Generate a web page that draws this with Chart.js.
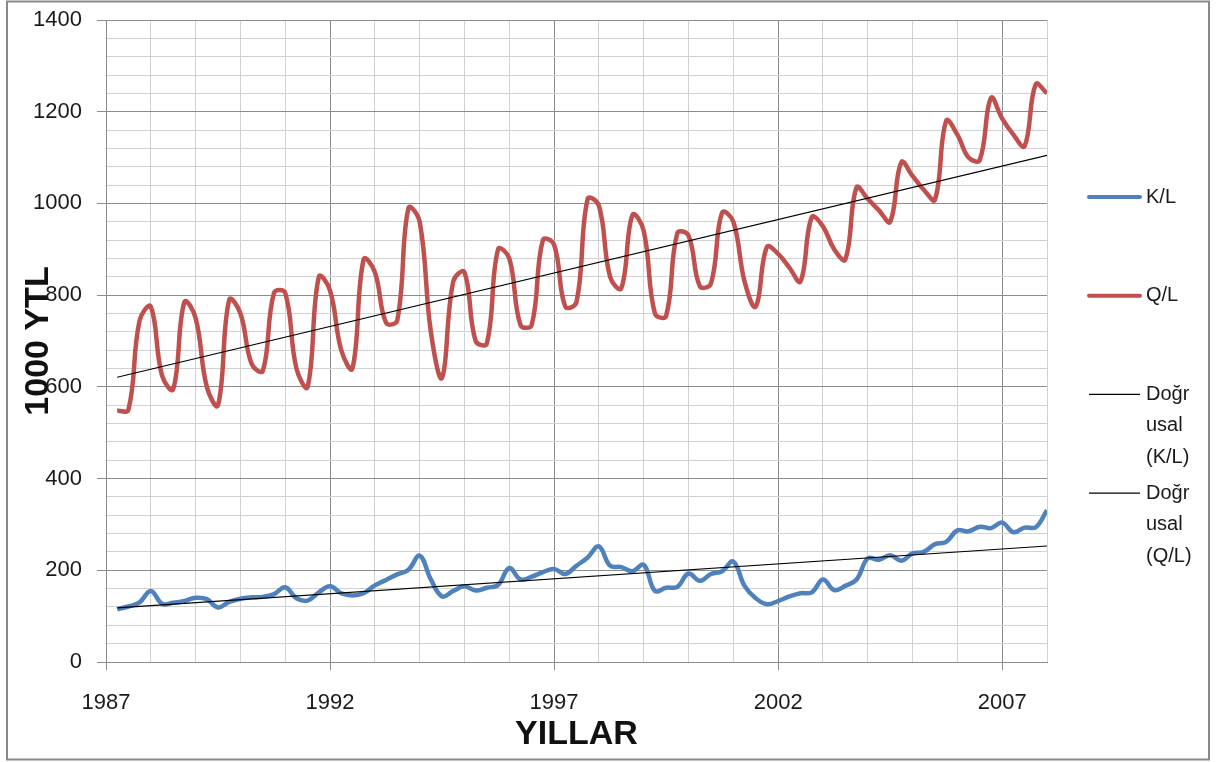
<!DOCTYPE html>
<html><head><meta charset="utf-8">
<script src="https://cdn.jsdelivr.net/npm/chart.js@4.4.1/dist/chart.umd.min.js"></script>
<style>html,body{margin:0;padding:0;background:#fff;overflow:hidden}#wrap{width:1218px;height:762px;position:relative}</style>
</head><body><div id="wrap"><canvas id="c" width="1218" height="762"></canvas></div>
<script>
// ---- categories: quarterly periods 1987Q1 .. 2007Q4 ----
const firstYear = 1987, lastYear = 2007;
const quarters = [];
for (let y = firstYear; y <= lastYear; y++) for (let q = 1; q <= 4; q++) quarters.push(y + 'Q' + q);

// ---- series values ----
const klValues = [
  115,121,130,155, 127,129,133,140, 137,119,131,138, 141,142,148,163,
  139,134,152,165, 150,145,150,167, 179,191,201,232, 180,143,155,165,
  156,162,168,205, 180,186,196,203, 192,210,228,252, 210,207,198,212,
  155,162,164,193, 177,192,198,219, 166,139,126,133, 143,150,152,180,
  157,166,180,226, 223,233,221,237, 240,257,262,287, 285,295,292,304,
  283,293,294,331
];
const qlValues = [
  548,550,745,775, 625,595,785,750, 600,560,790,760, 650,635,805,805,
  640,600,840,810, 680,640,878,850, 740,745,990,960, 720,620,830,850,
  700,695,900,880, 735,735,920,910, 775,785,1010,995, 840,815,975,940,
  760,755,935,930, 820,825,980,960, 830,775,905,890, 860,830,970,950,
  900,878,1035,1010, 985,960,1090,1060, 1030,1008,1180,1150, 1100,1095,1230,1185,
  1150,1125,1260,1240
];
// linear trend lines: values at first and last quarter
const trendKL = [118, 253];
const trendQL = [621, 1105];

// ---- labels ----
const seriesNames = ['K/L', 'Q/L', 'Doğrusal (K/L)', 'Doğrusal (Q/L)'];
const legendLines = [['K/L'], ['Q/L'], ['Doğr', 'usal', '(K/L)'], ['Doğr', 'usal', '(Q/L)']];
const xTickLabels = ['1987', '1992', '1997', '2002', '2007'];
const yTickLabels = [0, 200, 400, 600, 800, 1000, 1200, 1400];
const xTitle = 'YILLAR';
const yTitle = '1000 YTL';

// ---- build ----
const qToX = (s) => parseInt(s.slice(0, 4), 10) + parseInt(s.slice(-1), 10) / 4;
const xs = quarters.map(qToX);
const toPts = (vals) => vals.map((v, i) => ({ x: xs[i], y: v }));
const endPts = (pair) => [{ x: xs[0], y: pair[0] }, { x: xs[xs.length - 1], y: pair[1] }];

const FONT = "'Liberation Sans', Arial, sans-serif";
const BLUE = '#4F81BD', RED = '#C0504D';
const MAJOR = '#8c8c8c', MINOR = '#d2d2d2';

const frameLegend = {
  id: 'frameLegend',
  beforeDraw(chart) {
    const c = chart.ctx;
    c.save();
    c.fillStyle = '#fff';
    c.fillRect(0, 0, chart.width, chart.height);
    c.restore();
  },
  afterDraw(chart) {
    const c = chart.ctx;
    c.save();
    c.strokeStyle = '#8a8a8a';
    c.lineWidth = 2;
    c.strokeRect(7, 1.5, 1202, 758);
    // legend
    c.font = '20px ' + FONT;
    c.fillStyle = '#1a1a1a';
    c.textBaseline = 'middle';
    c.textAlign = 'left';
    chart.data.datasets.forEach((ds, k) => {
      const y0 = 197 + k * 98.7;
      c.beginPath();
      c.strokeStyle = ds.borderColor;
      c.lineWidth = ds.borderWidth > 2 ? 4 : 1.3;
      c.lineCap = ds.borderWidth > 2 ? 'round' : 'butt';
      c.moveTo(1089, y0);
      c.lineTo(1140, y0);
      c.stroke();
      legendLines[k].forEach((t, j) => c.fillText(t, 1146, y0 + j * 31.5));
    });
    c.restore();
  }
};

new Chart(document.getElementById('c'), {
  type: 'line',
  data: {
    datasets: [
      { label: seriesNames[0], data: toPts(klValues), borderColor: BLUE, borderWidth: 4.5, tension: 0.4, pointRadius: 0, order: 1 },
      { label: seriesNames[1], data: toPts(qlValues), borderColor: RED, borderWidth: 4.5, tension: 0.4, pointRadius: 0, order: 1 },
      { label: seriesNames[2], data: endPts(trendKL), borderColor: '#000', borderWidth: 1.2, tension: 0, pointRadius: 0, order: 0 },
      { label: seriesNames[3], data: endPts(trendQL), borderColor: '#000', borderWidth: 1.2, tension: 0, pointRadius: 0, order: 0 }
    ]
  },
  options: {
    responsive: false,
    animation: false,
    devicePixelRatio: 1,
    layout: { padding: { left: 0, right: 171, top: 20, bottom: 0 } },
    plugins: { legend: { display: false }, tooltip: { enabled: false } },
    scales: {
      x: {
        type: 'linear', min: 1987, max: 2008,
        afterFit: (s) => { s.height = 100; s.paddingLeft = 0; s.paddingRight = 0; },
        ticks: {
          stepSize: 1, autoSkip: false, maxRotation: 0, padding: 20,
          color: '#1a1a1a', font: { family: FONT, size: 22 },
          callback: (v) => xTickLabels.includes(String(v)) ? String(v) : ''
        },
        grid: {
          color: (ctx) => xTickLabels.includes(String(ctx.tick && ctx.tick.value)) ? MAJOR : MINOR,
          tickColor: (ctx) => xTickLabels.includes(String(ctx.tick && ctx.tick.value)) ? MAJOR : 'rgba(0,0,0,0)',
          tickLength: 8, lineWidth: 1
        },
        border: { color: MAJOR, width: 1 },
        title: { display: true, text: xTitle, color: '#111', font: { family: FONT, size: 34, weight: 'bold' }, padding: { top: 0, bottom: 7 } }
      },
      y: {
        min: 0, max: 1400,
        afterFit: (s) => { s.width = 106; s.paddingTop = 0; s.paddingBottom = 0; },
        ticks: {
          stepSize: 40, autoSkip: false, padding: 15,
          color: '#1a1a1a', font: { family: FONT, size: 22 },
          callback: (v) => yTickLabels.includes(Math.round(v)) ? String(Math.round(v)) : ''
        },
        grid: {
          color: (ctx) => yTickLabels.includes(Math.round(ctx.tick ? ctx.tick.value : -1)) ? MAJOR : MINOR,
          tickColor: (ctx) => yTickLabels.includes(Math.round(ctx.tick ? ctx.tick.value : -1)) ? MAJOR : 'rgba(0,0,0,0)',
          tickLength: 9, lineWidth: 1
        },
        border: { color: MAJOR, width: 1 },
        title: { display: true, text: yTitle, color: '#111', font: { family: FONT, size: 34, weight: 'bold' }, padding: { top: 18, bottom: 0 } }
      }
    }
  },
  plugins: [frameLegend]
});
</script></body></html>
